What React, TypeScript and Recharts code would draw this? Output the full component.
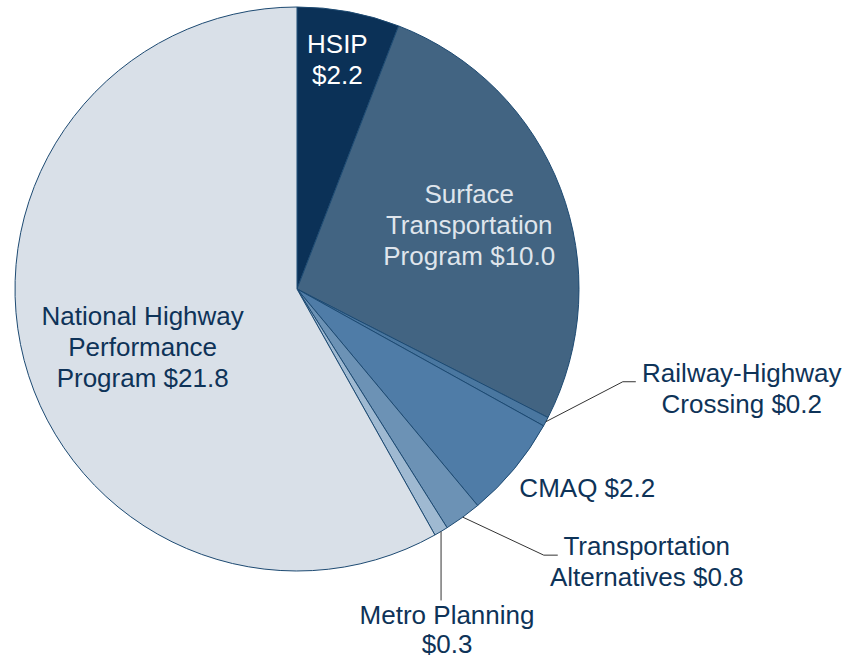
import React from 'react';
import { PieChart, Pie, Cell } from 'recharts';

// funding by program, $ billions
const programs = [
  'HSIP',
  'Surface Transportation Program',
  'Railway-Highway Crossing',
  'CMAQ',
  'Transportation Alternatives',
  'Metro Planning',
  'National Highway Performance Program',
];
const amounts = [2.2, 10.0, 0.2, 2.2, 0.8, 0.3, 21.8];
const labelLines = [
  ['HSIP', '$2.2'],
  ['Surface', 'Transportation', 'Program $10.0'],
  ['Railway-Highway', 'Crossing $0.2'],
  ['CMAQ $2.2'],
  ['Transportation', 'Alternatives $0.8'],
  ['Metro Planning', '$0.3'],
  ['National Highway', 'Performance', 'Program $21.8'],
];
const sliceColors = ['#0b3157', '#426482', '#4a77a0', '#4f7ca7', '#6c92b5', '#9fb9d1', '#d9e0e8'];

const data = programs.map((name, i) => ({ name, value: amounts[i], lines: labelLines[i] }));

const NAVY = '#0e3358';
const FONT = 26;
const LINE_H = 31;
const RAD = Math.PI / 180;

// label placement: inside labels sit on the mid-angle at a fraction of the radius,
// outside ones hang off the rim with an optional leader line
const layout: Record<string, any> = {
  'HSIP': { inside: 0.82, dx: -2, dy: -2, color: '#ffffff' },
  'Surface Transportation Program': { inside: 0.65, dx: 1, dy: 1, color: '#dfe5ec' },
  'National Highway Performance Program': { inside: 0.584, dx: 5, dy: 16, color: NAVY },
  'Railway-Highway Crossing': { leader: [[77, -40], [90, -40]], tx: 196, ty: -40 },
  'CMAQ': { leader: null, tx: 73, ty: 28 },
  'Transportation Alternatives': { leader: [[81, 38], [95, 38]], tx: 184, ty: 38 },
  'Metro Planning': { leader: [[0, 69]], tx: 6, ty: 93, lh: 29 },
};

const renderLabel = (props: any) => {
  const { cx, cy, midAngle, outerRadius, payload, name } = props;
  const key = payload?.name ?? name;
  const cfg = layout[key];
  const lines: string[] = payload?.lines ?? [];
  const cos = Math.cos(-midAngle * RAD);
  const sin = Math.sin(-midAngle * RAD);

  if (cfg.inside) {
    const r = outerRadius * cfg.inside;
    const x = cx + r * cos + cfg.dx;
    const y = cy + r * sin + cfg.dy;
    const first = y - ((lines.length - 1) * LINE_H) / 2;
    return (
      <text x={x} y={first} textAnchor="middle" dominantBaseline="central" fill={cfg.color}
        fontSize={FONT} fontFamily="'Liberation Sans', Arial, sans-serif">
        {lines.map((l, i) => (
          <tspan key={i} x={x} y={first + i * LINE_H}>{l}</tspan>
        ))}
      </text>
    );
  }

  const ax = cx + outerRadius * cos;
  const ay = cy + outerRadius * sin;
  const pts = cfg.leader ? [[0, 0], ...cfg.leader] : null;
  const tx = ax + cfg.tx;
  const ty = ay + cfg.ty;
  const lh = cfg.lh ?? LINE_H;
  return (
    <g>
      {pts && (
        <polyline points={pts.map((p: number[]) => `${ax + p[0]},${ay + p[1]}`).join(' ')}
          fill="none" stroke="#333" strokeWidth={1} />
      )}
      <text x={tx} y={ty} textAnchor="middle" fill={NAVY} fontSize={FONT}
        fontFamily="'Liberation Sans', Arial, sans-serif">
        {lines.map((l, i) => (
          <tspan key={i} x={tx} y={ty + i * lh}>{l}</tspan>
        ))}
      </text>
    </g>
  );
};

export default function App() {
  return (
    <div style={{ position: 'absolute', left: 0, top: 0, width: 848, height: 661, background: '#fff' }}>
      <PieChart width={848} height={661}>
        <Pie
          data={data}
          dataKey="value"
          nameKey="name"
          cx={292}
          cy={284}
          outerRadius={282}
          startAngle={90}
          endAngle={-270}
          stroke="#1d4a72"
          strokeWidth={1}
          labelLine={false}
          label={renderLabel}
          isAnimationActive={false}
        >
          {data.map((d, i) => (
            <Cell key={d.name} fill={sliceColors[i]} />
          ))}
        </Pie>
      </PieChart>
    </div>
  );
}
